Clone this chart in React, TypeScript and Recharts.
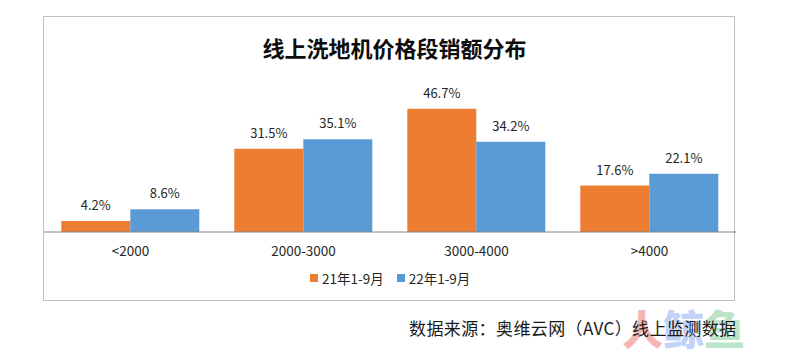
import React from 'react';
import { BarChart, Bar, XAxis, YAxis, LabelList } from 'recharts';

const categories = ['<2000', '2000-3000', '3000-4000', '>4000'];
const series21 = [4.2, 31.5, 46.7, 17.6];
const series22 = [8.6, 35.1, 34.2, 22.1];
const seriesNames = ['21年1-9月', '22年1-9月'];
const seriesColors = ['#ED7D31', '#5B9BD5'];
const titleText = '线上洗地机价格段销额分布';
const sourceText = '数据来源：奥维云网（AVC）线上监测数据';

const data = categories.map((c, i) => ({ name: c, a: series21[i], b: series22[i] }));

const FONT = '"Noto Sans CJK SC", "Noto Sans", sans-serif';

export default function App() {
  return (
    <div style={{ position: 'absolute', left: 0, top: 0, width: 789, height: 359, background: '#fff', fontFamily: FONT, overflow: 'hidden' }}>
      <div style={{ position: 'absolute', left: 43, top: 16, width: 692, height: 285, border: '1.5px solid #BFBFBF', boxSizing: 'border-box' }} />
      <div style={{ position: 'absolute', left: 0, top: 32, width: 789, textAlign: 'center', fontSize: 22, fontWeight: 700, color: '#0d0d0d', lineHeight: '30px' }}>
        {titleText}
      </div>
      <div style={{ position: 'absolute', left: 0, top: 0 }}>
        <BarChart width={789} height={359} data={data} margin={{ top: 100, right: 53, left: 44, bottom: 97 }} barGap={0} barCategoryGap="10%">
          <XAxis dataKey="name" axisLine={{ stroke: '#868686', strokeWidth: 1 }} tickLine={false} tickSize={0} tickMargin={14} height={30}
            tick={{ fill: '#262626', fontSize: 13.5, fontFamily: FONT }} interval={0} />
          <YAxis hide domain={[0, 50]} />
          <Bar dataKey="a" name={seriesNames[0]} fill={seriesColors[0]} isAnimationActive={false}>
            <LabelList dataKey="a" position="top" offset={11} formatter={(v: any) => `${v}%`} style={{ fill: '#262626', fontSize: 13, fontFamily: FONT }} />
          </Bar>
          <Bar dataKey="b" name={seriesNames[1]} fill={seriesColors[1]} isAnimationActive={false}>
            <LabelList dataKey="b" position="top" offset={11} formatter={(v: any) => `${v}%`} style={{ fill: '#262626', fontSize: 13, fontFamily: FONT }} />
          </Bar>
        </BarChart>
      </div>
      <div style={{ position: 'absolute', left: 310, top: 268, display: 'flex', alignItems: 'center', fontSize: 13.5, color: '#262626', lineHeight: '20px' }}>
        <span style={{ display: 'inline-block', width: 8, height: 8, background: seriesColors[0], marginRight: 4 }} />
        <span style={{ marginRight: 13 }}>{seriesNames[0]}</span>
        <span style={{ display: 'inline-block', width: 8, height: 8, background: seriesColors[1], marginRight: 4 }} />
        <span>{seriesNames[1]}</span>
      </div>
      <div style={{ position: 'absolute', left: 622, top: 304, fontSize: 41, fontWeight: 900, lineHeight: '46px', whiteSpace: 'nowrap', opacity: 0.5 }}>
        <span style={{ color: '#EE6E6E' }}>人</span>
        <span style={{ color: '#86A9F0' }}>鲸</span>
        <span style={{ color: '#7CCB93' }}>鱼</span>
      </div>
      <div style={{ position: 'absolute', left: 409, top: 316, fontSize: 17, letterSpacing: 0.4, color: '#1a1a1a', lineHeight: '24px', whiteSpace: 'nowrap' }}>
        {sourceText}
      </div>
    </div>
  );
}
